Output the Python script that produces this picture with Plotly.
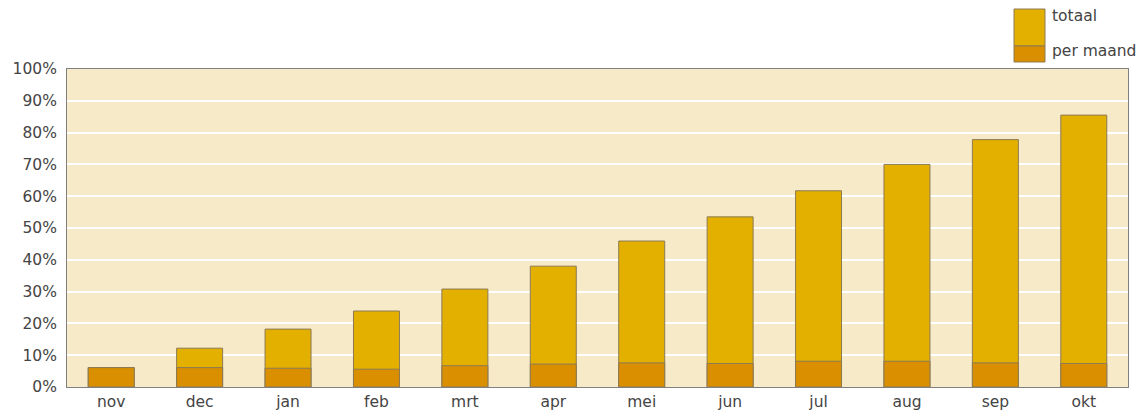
import plotly.graph_objects as go

months = ["nov", "dec", "jan", "feb", "mrt", "apr", "mei", "jun", "jul", "aug", "sep", "okt"]
totaal = [6.1, 12.2, 18.2, 23.9, 30.8, 38.0, 45.9, 53.5, 61.7, 70.0, 77.8, 85.5]
per_maand = [6.1, 6.1, 5.9, 5.6, 6.7, 7.2, 7.6, 7.4, 8.1, 8.1, 7.6, 7.4]
y_ticks = [0, 10, 20, 30, 40, 50, 60, 70, 80, 90, 100]
y_labels = [f"{v}%" for v in y_ticks]

C_TOT = "#E3B000"
C_MND = "#D98F00"
C_EDGE = "#8C7A55"
FONT = "DejaVu Sans"
FS = 15.5

# page body has an 8px margin; target geometry in window pixels
OFF = 8
W, H = 1138, 408
# plot area in window pixels: left 67, right 1128, top 69, bottom 387
ML = 67 - OFF
MT = 69 - OFF
MR = OFF + W - 1128
MB = OFF + H - 387

fig = go.Figure()
fig.add_bar(x=months, y=totaal, name="totaal", marker=dict(color=C_TOT, line=dict(color=C_EDGE, width=1)))
fig.add_bar(x=months, y=per_maand, name="per maand", marker=dict(color=C_MND, line=dict(color=C_EDGE, width=1)))

pw = 1128 - 67
ph = 387 - 69
def px(x):
    return (x - 67) / pw
def py(y):
    return (387 - y) / ph

shapes = [
    dict(type="rect", xref="paper", yref="paper", x0=px(1014), x1=px(1045), y0=py(46), y1=py(9),
         fillcolor=C_TOT, line=dict(color=C_EDGE, width=1)),
    dict(type="rect", xref="paper", yref="paper", x0=px(1014), x1=px(1045), y0=py(62), y1=py(46),
         fillcolor=C_MND, line=dict(color=C_EDGE, width=1)),
]
annotations = [
    dict(xref="paper", yref="paper", x=px(1050), y=py(16), text="totaal", showarrow=False,
         xanchor="left", yanchor="middle", font=dict(family=FONT, size=FS, color="#444444")),
    dict(xref="paper", yref="paper", x=px(1050), y=py(51), text="per maand", showarrow=False,
         xanchor="left", yanchor="middle", font=dict(family=FONT, size=FS, color="#444444")),
]

fig.update_layout(
    width=W, height=H,
    margin=dict(l=ML, r=MR, t=MT, b=MB, pad=0),
    barmode="overlay",
    bargap=0.48,
    showlegend=False,
    paper_bgcolor="white",
    plot_bgcolor="#F7EAC8",
    font=dict(family=FONT, size=FS, color="#444444"),
    shapes=shapes,
    annotations=annotations,
    xaxis=dict(showline=True, linecolor="#808080", linewidth=1, mirror=True, ticks="",
               showgrid=False, tickfont=dict(size=FS), automargin=False),
    yaxis=dict(range=[0, 100], tickvals=y_ticks, ticktext=y_labels, showline=True,
               linecolor="#808080", linewidth=1, mirror=True, gridcolor="white", gridwidth=2,
               zeroline=False, ticks="outside", ticklen=6, tickcolor="rgba(0,0,0,0)",
               tickfont=dict(size=FS), automargin=False),
)

fig.write_html("out.html")
